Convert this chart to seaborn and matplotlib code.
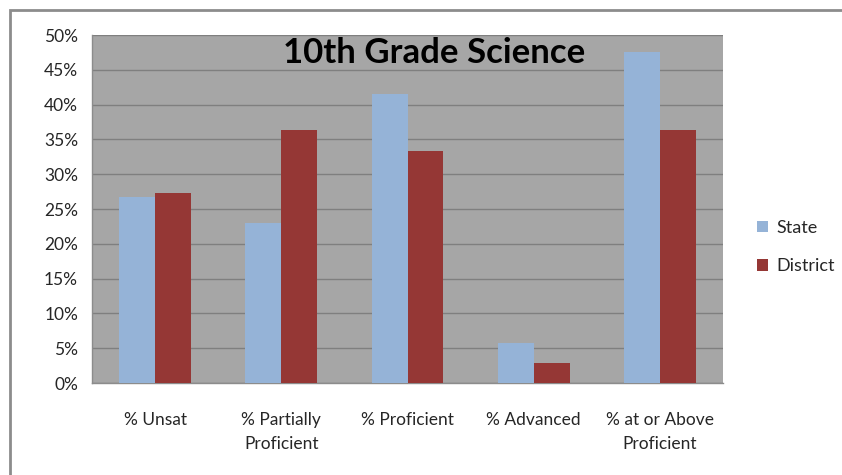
import matplotlib
matplotlib.use('Agg')
import matplotlib.pyplot as plt
import matplotlib.patches as mpatches
import seaborn as sns
import pandas as pd
import numpy as np

categories = ['% Unsat', '% Partially\nProficient', '% Proficient', '% Advanced', '% at or Above\nProficient']
state = [26.7, 23.0, 41.5, 5.8, 47.5]
district = [27.3, 36.4, 33.3, 2.9, 36.4]
series = ['State', 'District']
colors = ['#95B3D7', '#953735']
yticks = [0, 5, 10, 15, 20, 25, 30, 35, 40, 45, 50]

df = pd.DataFrame({
    'Category': categories * 2,
    'Value': state + district,
    'Series': ['State'] * len(categories) + ['District'] * len(categories),
})

sns.set_style('white')
plt.rcParams['font.family'] = ['Lato', 'DejaVu Sans']

fig = plt.figure(figsize=(8.42, 4.75), dpi=100)
ax = fig.add_axes([92 / 842, 92 / 475, 631 / 842, 348 / 475])
ax.set_facecolor('#A6A6A6')

sns.barplot(data=df, x='Category', y='Value', hue='Series', hue_order=series,
            palette=colors, width=0.57, saturation=1, ax=ax, legend=False,
            edgecolor='none', zorder=3)

ax.set_xlim(-0.5, 4.5)
ax.set_ylim(0, 50)
ax.set_yticks(yticks)
ax.set_yticklabels([f'{v}%' for v in yticks])
ax.yaxis.grid(True, color='#7F7F7F', linewidth=1, zorder=0)
ax.set_axisbelow(True)
ax.set_xlabel('')
ax.set_ylabel('')

ax.set_xticks(range(len(categories)))
ax.set_xticklabels(categories, fontsize=12.5, color='#262626', linespacing=1.6)
ax.set_xticks(np.arange(-0.5, len(categories), 1), minor=True)
ax.tick_params(axis='x', which='major', length=0, pad=21)
ax.tick_params(axis='x', which='minor', length=8, color='#8C8C8C', width=1)
ax.tick_params(axis='y', length=7, color='#8C8C8C', width=1, labelsize=12.5,
               labelcolor='#262626', pad=3)
for lbl in ax.get_xticklabels():
    lbl.set_verticalalignment('top')

for side in ['top', 'right']:
    ax.spines[side].set_visible(False)
for side in ['left', 'bottom']:
    ax.spines[side].set_color('#8C8C8C')
    ax.spines[side].set_linewidth(1)

ax.text(0.542, 0.948, '10th Grade Science', transform=ax.transAxes, ha='center',
        va='center', fontsize=25, fontweight='bold', color='black', zorder=5)

handles = [mpatches.Patch(facecolor=c, edgecolor='none', label=s)
           for c, s in zip(colors, series)]
fig.legend(handles=handles, loc='center left', bbox_to_anchor=(757 / 842, 1 - 247 / 475),
           frameon=False, fontsize=13, handlelength=0.6, handleheight=0.6,
           handletextpad=0.45, labelspacing=1.25, borderpad=0, borderaxespad=0)

border = mpatches.Rectangle((10 / 842, -0.1), 1.2, (475 - 10) / 475 + 0.1,
                            transform=fig.transFigure, fill=False,
                            edgecolor='#8C8C8C', linewidth=2, clip_on=False)
fig.add_artist(border)

fig.savefig('out.png', dpi=100)
